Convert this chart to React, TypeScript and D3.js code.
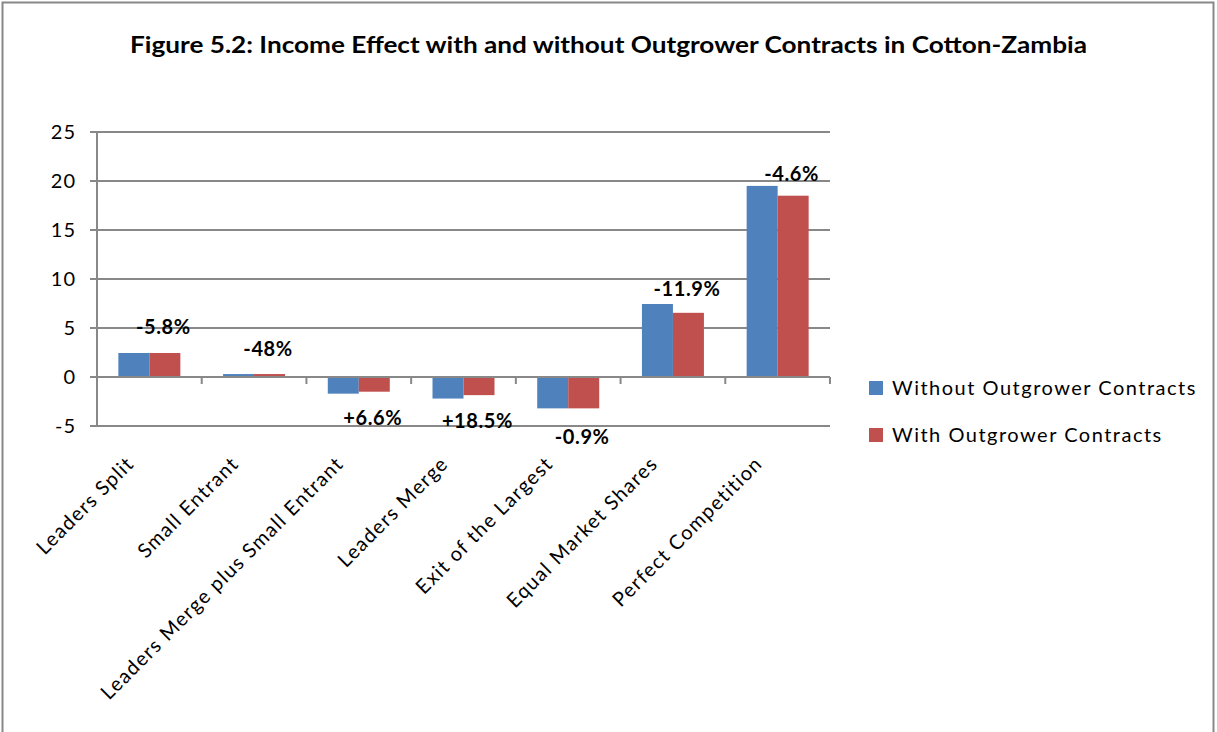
import React from "react";
import * as d3 from "d3";

const categories = [
  "Leaders Split",
  "Small Entrant",
  "Leaders Merge plus Small Entrant",
  "Leaders Merge",
  "Exit of the Largest",
  "Equal Market Shares",
  "Perfect Competition",
];
const seriesNames = ["Without Outgrower Contracts", "With Outgrower Contracts"];
const withoutContracts = [2.45, 0.3, -1.7, -2.2, -3.2, 7.45, 19.5];
const withContracts = [2.45, 0.3, -1.5, -1.85, -3.2, 6.55, 18.5];
const changeLabels = ["-5.8%", "-48%", "+6.6%", "+18.5%", "-0.9%", "-11.9%", "-4.6%"];
const labelValues = [4.4, 2.1, -4.9, -5.2, -6.8, 8.3, 20.0];
const yTicks = [-5, 0, 5, 10, 15, 20, 25];
const colors = ["#4F81BD", "#C0504D"];

const W = 1217;
const H = 732;
const FONT = "Lato, 'Open Sans', sans-serif";

export default function App() {
  const x0 = 97;
  const x1 = 830;
  const y = d3.scaleLinear().domain([-5, 25]).range([426, 132]);
  const x = d3.scaleBand().domain(categories).range([x0, x1]).paddingInner(0).paddingOuter(0);
  const bw = x.bandwidth();
  const barW = 31;
  const series = [withoutContracts, withContracts];
  const gridColor = "#888888";

  return (
    <svg
      width={W}
      height={H}
      style={{ position: "absolute", left: 0, top: 0, background: "#fff" }}
      fontFamily={FONT}
    >
      <rect x={0} y={0} width={W} height={H} fill="#fff" />
      <rect x={2.5} y={2.5} width={1211} height={H + 20} fill="none" stroke="#888" strokeWidth={2} />
      <text
        x={130}
        y={53}
        textLength={957}
        lengthAdjust="spacingAndGlyphs"
        fontSize={23}
        fontWeight="bold"
        fill="#000"
      >
        Figure 5.2: Income Effect with and without Outgrower Contracts in Cotton-Zambia
      </text>

      {/* gridlines */}
      {yTicks.map((t) => (
        <g key={t}>
          <line x1={x0 - 7} x2={x1} y1={y(t)} y2={y(t)} stroke={gridColor} strokeWidth={2} />
          <text x={76} y={y(t)} dy="0.35em" textAnchor="end" fontSize={20} letterSpacing={1} fill="#000">
            {t}
          </text>
        </g>
      ))}
      {/* y axis */}
      <line x1={x0} x2={x0} y1={y(25)} y2={y(-5)} stroke={gridColor} strokeWidth={2} />

      {/* bars */}
      {categories.map((c, i) => {
        const cx = (x(c) as number) + bw / 2;
        return (
          <g key={c}>
            {series.map((s, j) => {
              const v = s[i];
              const bx = cx - barW + j * barW;
              return (
                <rect
                  key={j}
                  x={bx}
                  y={v >= 0 ? y(v) : y(0)}
                  width={barW}
                  height={Math.abs(y(v) - y(0))}
                  fill={colors[j]}
                />
              );
            })}
          </g>
        );
      })}

      {/* zero axis with ticks */}
      <line x1={x0} x2={x1} y1={y(0)} y2={y(0)} stroke={gridColor} strokeWidth={2} />
      {categories.map((c, i) => (
        <line
          key={"t" + i}
          x1={(x(c) as number) + bw}
          x2={(x(c) as number) + bw}
          y1={y(0)}
          y2={y(0) + 7}
          stroke={gridColor}
          strokeWidth={2}
        />
      ))}

      {/* change labels */}
      {categories.map((c, i) => (
        <text
          key={"l" + i}
          x={(x(c) as number) + bw / 2 + 14}
          y={y(labelValues[i])}
          textAnchor="middle"
          fontSize={20}
          letterSpacing={0.6}
          fontWeight="bold"
          fill="#000"
        >
          {changeLabels[i]}
        </text>
      ))}

      {/* category labels */}
      {categories.map((c) => {
        const cx = (x(c) as number) + bw / 2;
        return (
          <text
            key={"c" + c}
            transform={`translate(${cx - 14},${465}) rotate(-45)`}
            textAnchor="end"
            fontSize={20}
            letterSpacing={1.3}
            fill="#000"
          >
            {c}
          </text>
        );
      })}

      {/* legend */}
      {seriesNames.map((n, j) => (
        <g key={n} transform={`translate(869,${381 + j * 47})`}>
          <rect x={0} y={0} width={14} height={14} fill={colors[j]} />
          <text x={23} y={7} dy="0.35em" fontSize={20} fill="#000" letterSpacing={1.5}>
            {n}
          </text>
        </g>
      ))}
    </svg>
  );
}
